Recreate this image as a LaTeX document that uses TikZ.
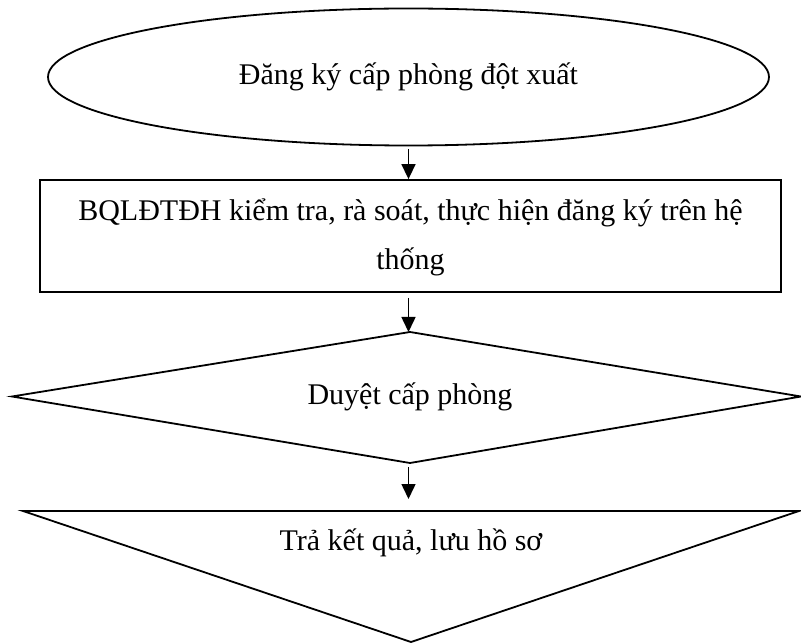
\documentclass[tikz,border=0pt]{standalone}
\usepackage{fontspec}
\setmainfont{Liberation Serif}
\usetikzlibrary{shapes.geometric,arrows.meta}
\begin{document}
\begin{tikzpicture}[x=1pt,y=-1pt,
  outline/.style={draw=black,line width=1.8pt,line join=miter},
  flowtext/.style={font=\fontsize{30}{45}\selectfont,align=center,inner sep=0pt},
  flowarrow/.style={line width=1.5pt,-{Triangle[length=15pt,width=14pt]}}]
\useasboundingbox (0,0) rectangle (801,644);
\fill[white] (0,0) rectangle (801,644);
% start ellipse
\node[ellipse,outline,flowtext,minimum width=721pt,minimum height=137pt] (ell) at (408.5,77) {Đăng ký cấp phòng đột xuất};
% process box
\node[rectangle,outline,flowtext,minimum width=741pt,minimum height=112pt] (box) at (410.5,236)
  {\raisebox{-4pt}{\begin{tabular}{@{}c@{}}BQLĐTĐH kiểm tra, rà soát, thực hiện đăng ký trên hệ\\[4pt]thống\end{tabular}}};
% decision diamond
\coordinate (dtop) at (410,332);
\coordinate (dleft) at (12,396.5);
\coordinate (dright) at (801,396.5);
\coordinate (dbot) at (410,463);
\draw[outline] (dtop) -- (dright) -- (dbot) -- (dleft) -- cycle;
\node[flowtext] (dia) at (410,397) {Duyệt cấp phòng};
% end triangle
\coordinate (tl) at (23,511);
\coordinate (tr) at (799,511);
\coordinate (tb) at (411,642);
\coordinate (tritop) at (411,511);
\draw[outline] (tl) -- (tr) -- (tb) -- cycle;
\node[flowtext] (tri) at (411,543) {Trả kết quả, lưu hồ sơ};
% connectors
\draw[flowarrow,shorten <=3pt] (ell.south) -- (ell.south |- box.north);
\draw[flowarrow,shorten <=5pt] (ell.south |- box.south) -- (ell.south |- dtop);
\draw[flowarrow,shorten <=4pt,shorten >=12pt] (ell.south |- dbot) -- (ell.south |- tritop);
\end{tikzpicture}
\end{document}
